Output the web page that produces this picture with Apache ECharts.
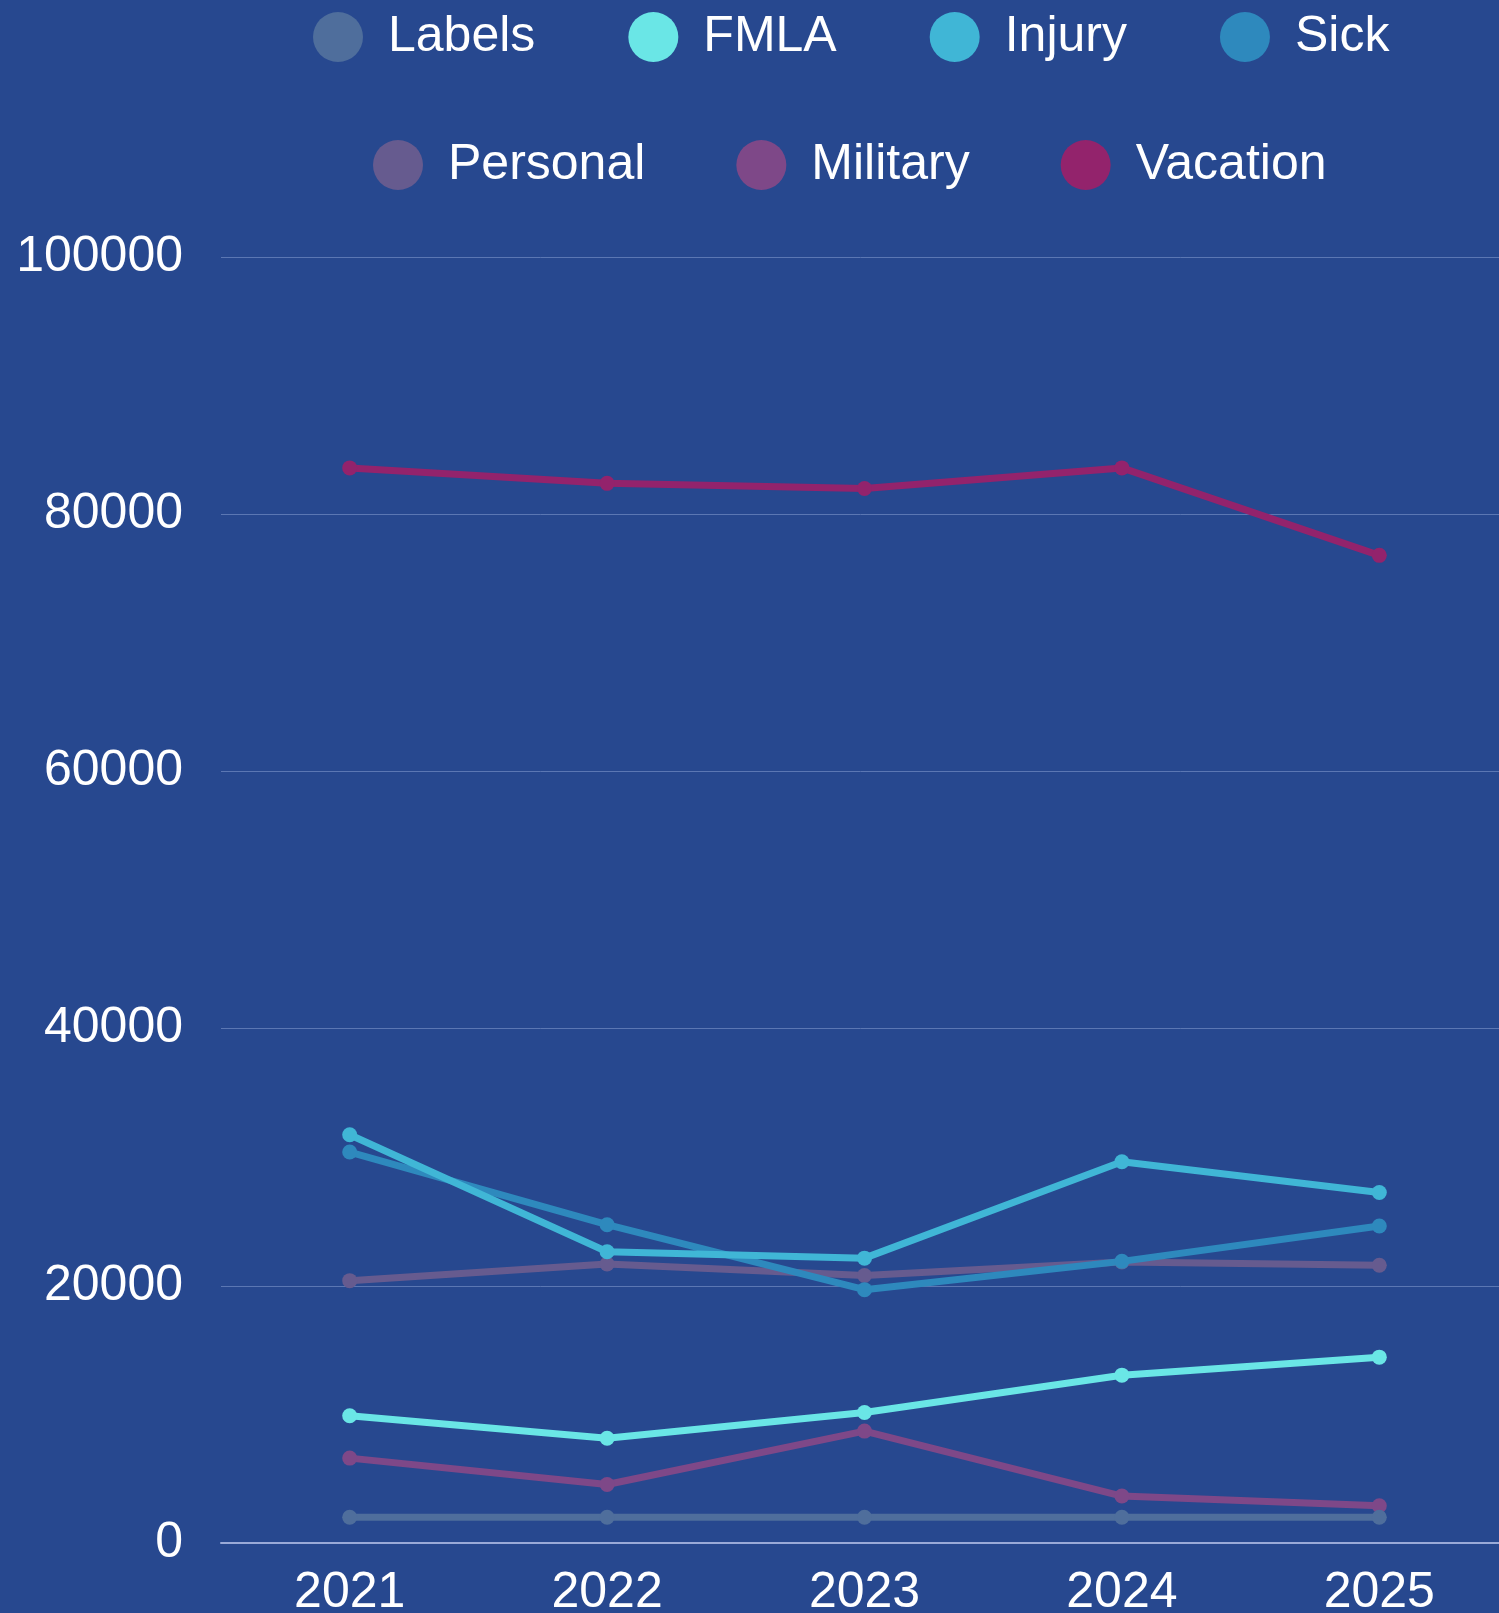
<!DOCTYPE html>
<html>
<head>
<meta charset="utf-8">
<style>
  html, body { margin: 0; padding: 0; background: #27488f; overflow: hidden; }
  #chart { width: 1499px; height: 1613px; }
</style>
<script src="https://cdn.jsdelivr.net/npm/echarts@6/dist/echarts.min.js"></script>
</head>
<body>
<div id="chart"></div>
<script>
// ---- data ----
const years = ['2021', '2022', '2023', '2024', '2025'];
const labelsVals = [2000, 2000, 2000, 2000, 2000];
const fmlaVals = [9900, 8150, 10150, 13050, 14450];
const injuryVals = [31750, 22650, 22150, 29650, 27250];
const sickVals = [30400, 24750, 19700, 21900, 24650];
const personalVals = [20400, 21700, 20800, 21850, 21600];
const militaryVals = [6600, 4550, 8700, 3650, 2900];
const vacationVals = [83600, 82400, 82000, 83600, 76800];
const yTicks = [0, 20000, 40000, 60000, 80000, 100000];

const seriesDefs = [
  { name: 'Labels', color: '#4f6e9c', data: labelsVals },
  { name: 'FMLA', color: '#6ae6e6', data: fmlaVals },
  { name: 'Injury', color: '#40b6d6', data: injuryVals },
  { name: 'Sick', color: '#2e89bd', data: sickVals },
  { name: 'Personal', color: '#665b8f', data: personalVals },
  { name: 'Military', color: '#7e4888', data: militaryVals },
  { name: 'Vacation', color: '#93236c', data: vacationVals },
];

const chart = echarts.init(document.getElementById('chart'));

const legendBase = {
  orient: 'horizontal',
  padding: 0,
  icon: 'circle',
  itemWidth: 50,
  itemHeight: 50,
  itemGap: 93,
  textStyle: {
    color: '#ffffff',
    fontSize: 50,
    fontFamily: 'Liberation Sans',
    padding: [0, 0, 0, 20],
  },
};

chart.setOption({
  backgroundColor: '#27488f',
  animation: false,
  color: seriesDefs.map(s => s.color),
  legend: [
    Object.assign({}, legendBase, {
      left: 313,
      top: 12,
      data: ['Labels', 'FMLA', 'Injury', 'Sick'],
    }),
    Object.assign({}, legendBase, {
      left: 373,
      top: 140,
      itemGap: 91,
      data: ['Personal', 'Military', 'Vacation'],
    }),
  ],
  grid: {
    left: 221,
    top: 257,
    width: 1287,
    height: 1286,
    outerBoundsMode: 'none',
  },
  xAxis: {
    type: 'category',
    data: years,
    boundaryGap: true,
    axisLine: { lineStyle: { color: '#9aaad8', width: 2 } },
    axisTick: { show: false },
    axisLabel: {
      color: '#ffffff',
      fontSize: 50,
      fontFamily: 'Liberation Sans',
      margin: 25,
    },
  },
  yAxis: {
    type: 'value',
    min: yTicks[0],
    max: yTicks[yTicks.length - 1],
    interval: yTicks[1] - yTicks[0],
    axisLine: { show: false },
    axisTick: { show: false },
    splitLine: { lineStyle: { color: '#5b77b3', width: 1 } },
    axisLabel: {
      color: '#ffffff',
      fontSize: 50,
      fontFamily: 'Liberation Sans',
      margin: 38,
      formatter: v => String(v),
    },
  },
  series: seriesDefs.map((s, i) => ({
    name: s.name,
    type: 'line',
    data: s.data,
    z: 20 - i,
    symbol: 'circle',
    symbolSize: 15,
    showSymbol: true,
    lineStyle: { width: 7, color: s.color },
    itemStyle: { color: s.color },
  })),
});
</script>
</body>
</html>
